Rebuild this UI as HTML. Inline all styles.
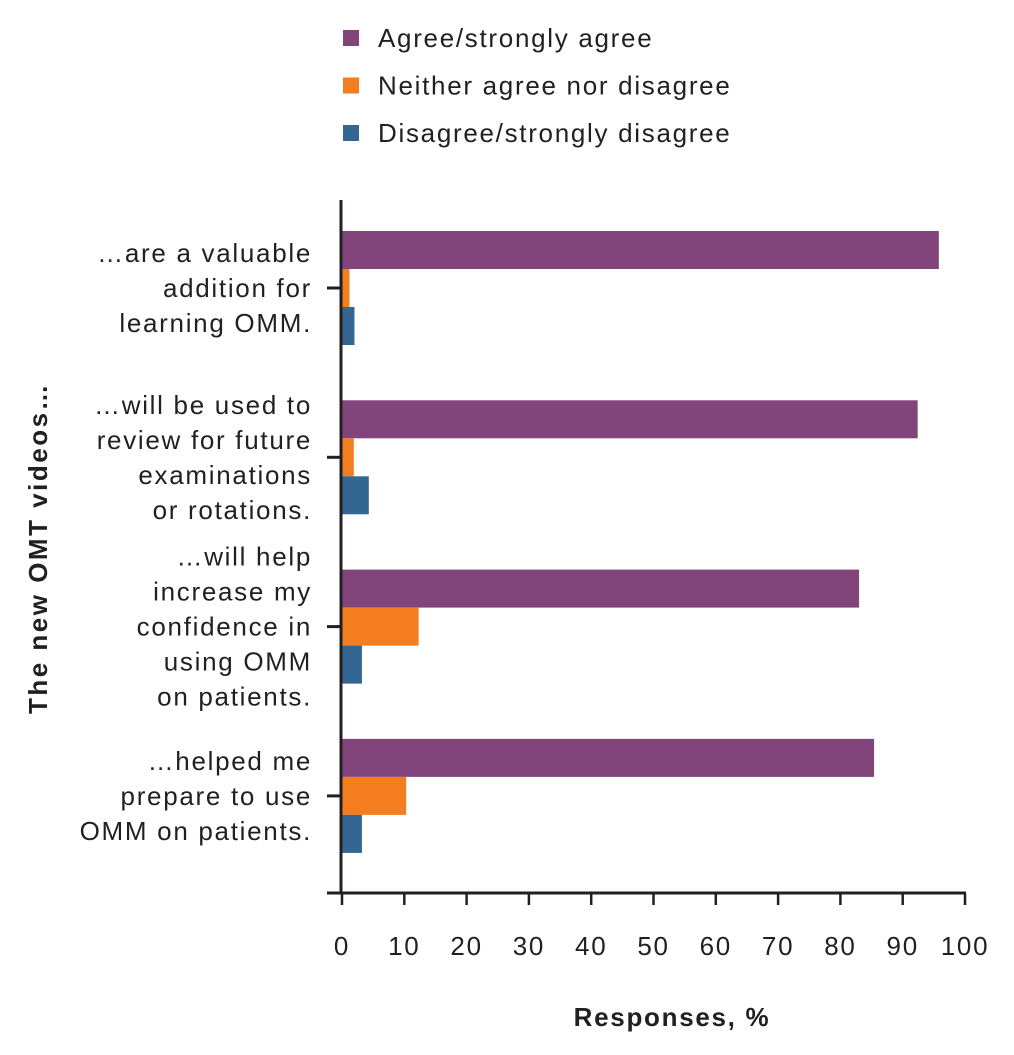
<!DOCTYPE html>
<html><head><meta charset="utf-8"><style>
html,body{margin:0;padding:0;background:#fff;}
svg{display:block;font-family:"Liberation Sans",Arial,sans-serif;}
svg text{letter-spacing:1.7px;}
</style></head><body>
<svg id="chart" width="1014" height="1055" viewBox="0 0 1014 1055" xmlns="http://www.w3.org/2000/svg">
<g id="legend"></g>
<g id="bars"></g>
<g id="axes"></g>
<g id="labels"></g>
<text x="672" y="1026" text-anchor="middle" font-size="26" font-weight="bold" fill="#231f20">Responses, %</text>
<text transform="translate(47,548) rotate(-90)" text-anchor="middle" font-size="26" font-weight="bold" fill="#231f20" style="letter-spacing:2.5px">The new OMT videos…</text>
</svg>
<script>
const categories = [
  ["…are a valuable","addition for","learning OMM."],
  ["…will be used to","review for future","examinations","or rotations."],
  ["…will help","increase my","confidence in","using OMM","on patients."],
  ["…helped me","prepare to use","OMM on patients."]
];
const seriesNames = ["Agree/strongly agree","Neither agree nor disagree","Disagree/strongly disagree"];
const seriesColors = ["#82457b","#f47d20","#336791"];
const agree = [95.8, 92.4, 83.0, 85.4];
const neither = [1.2, 1.9, 12.3, 10.3];
const disagree = [2.0, 4.3, 3.2, 3.2];
const xTicks = [0,10,20,30,40,50,60,70,80,90,100];

const NS = "http://www.w3.org/2000/svg";
function mk(tag, attrs, parent){ const e=document.createElementNS(NS,tag); for(const k in attrs) e.setAttribute(k,attrs[k]); parent.appendChild(e); return e; }
const x0 = 342, x1 = 965;
const xScale = v => x0 + (v/100)*(x1-x0);
const groupCenter = i => 288 + i*169.3;
const barH = 38;

const legend = document.getElementById('legend');
seriesNames.forEach((n,i)=>{
  const y = 38 + i*47.5;
  const r = mk('rect',{x:343,y:y-8,width:16,height:16,fill:seriesColors[i]},legend);
  
  
  const t = mk('text',{x:378,y:y+9,'font-size':26,fill:'#231f20'},legend);
  t.textContent = n;
  
  
});

const bars = document.getElementById('bars');
const series = [agree, neither, disagree];
categories.forEach((c,i)=>{
  series.forEach((s,j)=>{
    const y = groupCenter(i) - 1.5*barH + j*barH;
    const r = mk('rect',{x:x0,y:y,width:xScale(s[i])-x0,height:barH,fill:seriesColors[j]},bars);
    
    
  });
});

const axes = document.getElementById('axes');
const yl = mk('line',{x1:341,y1:200,x2:341,y2:894,stroke:'#231f20','stroke-width':3},axes);


const xl = mk('line',{x1:327,y1:893,x2:966,y2:893,stroke:'#231f20','stroke-width':3},axes);


xTicks.forEach(v=>{
  const x = xScale(v);
  const tk = mk('line',{x1:x,y1:893,x2:x,y2:905,stroke:'#231f20','stroke-width':2.5},axes);
  
  
  const t = mk('text',{x:x,y:955,'text-anchor':'middle','font-size':26,fill:'#231f20'},axes);
  t.textContent = v;
  
  
});
categories.forEach((c,i)=>{
  const tk = mk('line',{x1:327,y1:groupCenter(i),x2:341,y2:groupCenter(i),stroke:'#231f20','stroke-width':3},axes);
  
  
});

const labels = document.getElementById('labels');
const lh = 35;
categories.forEach((c,i)=>{
  const cy = groupCenter(i);
  const top = cy - (c.length-1)*lh/2;
  c.forEach((line,k)=>{
    const t = mk('text',{x:312,y:top+k*lh+9,'text-anchor':'end','font-size':26,fill:'#231f20'},labels);
    t.textContent = line;
    
    
  });
});
</script>
</body></html>
